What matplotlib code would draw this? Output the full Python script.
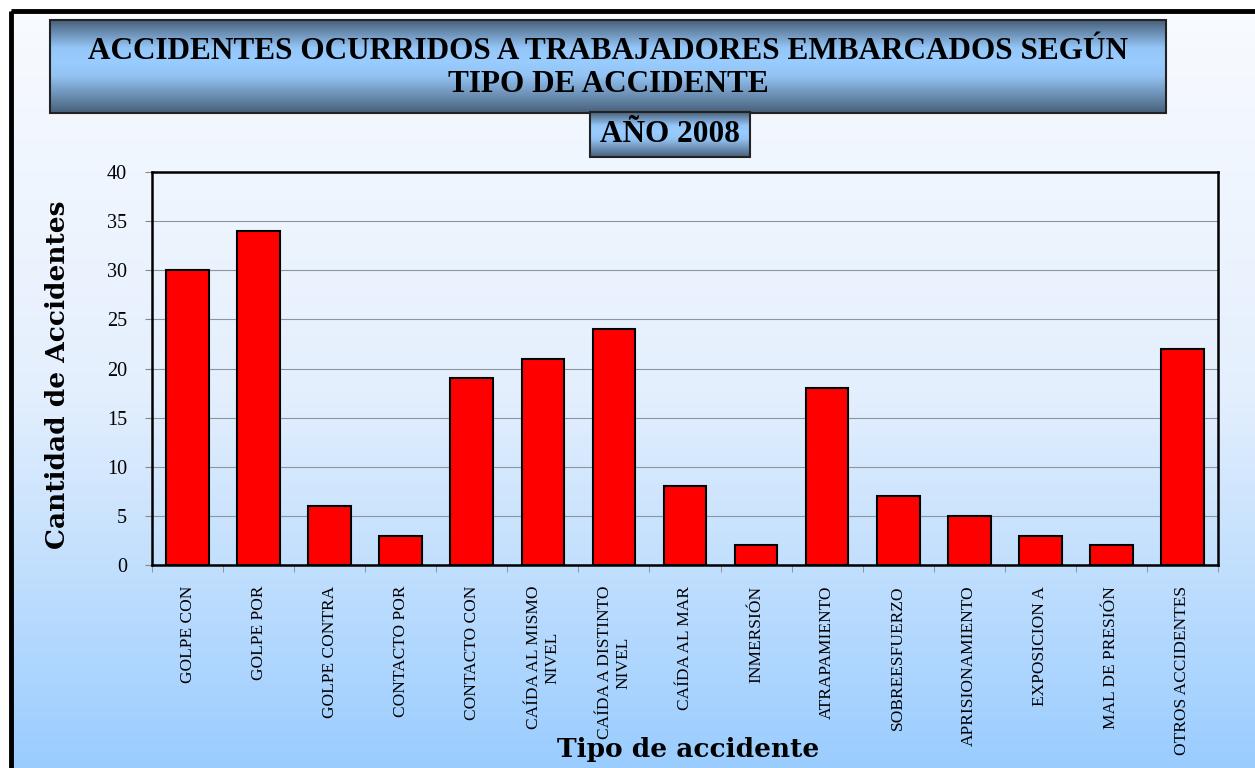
import numpy as np
import matplotlib.pyplot as plt
from matplotlib.colors import LinearSegmentedColormap
from matplotlib.patches import Rectangle

categorias = ["GOLPE CON", "GOLPE POR", "GOLPE CONTRA", "CONTACTO POR", "CONTACTO CON",
              "CAÍDA AL MISMO\nNIVEL", "CAÍDA A DISTINTO\nNIVEL", "CAÍDA AL MAR", "INMERSIÓN",
              "ATRAPAMIENTO", "SOBREESFUERZO", "APRISIONAMIENTO", "EXPOSICION A",
              "MAL DE PRESIÓN", "OTROS ACCIDENTES"]
accidentes = [30, 34, 6, 3, 19, 21, 24, 8, 2, 18, 7, 5, 3, 2, 22]
titulo = "ACCIDENTES OCURRIDOS A TRABAJADORES EMBARCADOS SEGÚN\nTIPO DE ACCIDENTE"
subtitulo = "AÑO 2008"

W, H = 1255, 768
fig = plt.figure(figsize=(W / 100, H / 100), dpi=100)
fig.patch.set_facecolor("white")

# fondo en coordenadas de pixel
bg = fig.add_axes([0, 0, 1, 1], zorder=-10)
bg.set_xlim(0, W)
bg.set_ylim(H, 0)
bg.axis("off")

fondo = LinearSegmentedColormap.from_list("fondo", ["#f8fbff", "#e4effd", "#99ccff"])
grad = np.linspace(0, 1, 256).reshape(-1, 1)
bg.imshow(grad, cmap=fondo, extent=(11, W + 5, H + 5, 11), aspect="auto", zorder=0)
bg.add_patch(Rectangle((11, 11), W, H, fill=False, edgecolor="black", linewidth=3.5, zorder=1))

caja = LinearSegmentedColormap.from_list(
    "caja", [(0, "#48607a"), (0.3, "#95c6f8"), (0.45, "#99ccff"), (0.6, "#93c3f3"), (1, "#48607a")])
bg.imshow(grad, cmap=caja, extent=(50, 1166, 113, 20), aspect="auto", zorder=2)
bg.add_patch(Rectangle((50, 20), 1116, 93, fill=False, edgecolor="#222222", linewidth=1.5, zorder=3))
bg.text(608, 68, titulo, ha="center", va="center", fontsize=22.5, fontweight="bold",
        family="Liberation Serif", linespacing=1.2, zorder=4)

bg.imshow(grad, cmap=caja, extent=(590, 750, 157, 112), aspect="auto", zorder=5)
bg.add_patch(Rectangle((590, 112), 160, 45, fill=False, edgecolor="#222222", linewidth=1.5, zorder=6))
bg.text(670, 135, subtitulo, ha="center", va="center", fontsize=22.5, fontweight="bold",
        family="Liberation Serif", zorder=7)

# grafico
ax = fig.add_axes([152 / W, 1 - 565 / H, (1218 - 152) / W, (565 - 172) / H])
ax.patch.set_alpha(0)
x = np.arange(len(categorias))
ax.bar(x, accidentes, width=0.6, color="#ff0000", edgecolor="black", linewidth=1.5, zorder=3)

ax.set_xlim(-0.5, len(categorias) - 0.5)
ax.set_ylim(0, 40)
ax.set_yticks(np.arange(0, 41, 5))
ax.yaxis.grid(True, color="#8c96a0", linewidth=0.8, zorder=0)

ax.set_xticks(x)
ax.set_xticklabels(categorias, rotation=90, fontsize=12.5, family="Liberation Serif",
                   va="top", ha="center", multialignment="center")
ax.set_xticks(np.arange(-0.5, len(categorias), 1), minor=True)
ax.tick_params(axis="x", which="major", length=0, pad=15)
ax.tick_params(axis="x", which="minor", length=5, color="#888888", direction="out")
ax.tick_params(axis="y", length=5, color="#888888", labelsize=14.5, pad=13)
for lbl in ax.get_yticklabels():
    lbl.set_family("Liberation Serif")

for s in ax.spines.values():
    s.set_linewidth(1.8)
    s.set_color("black")

fig.text(58 / W, 1 - 375 / H, "Cantidad de Accidentes", rotation=90, ha="center", va="center",
         fontsize=19, fontweight="bold", family="DejaVu Serif")
fig.text(688 / W, 1 - 749 / H, "Tipo de accidente", ha="center", va="center",
         fontsize=19, fontweight="bold", family="DejaVu Serif")

fig.savefig("out.png", dpi=100)
